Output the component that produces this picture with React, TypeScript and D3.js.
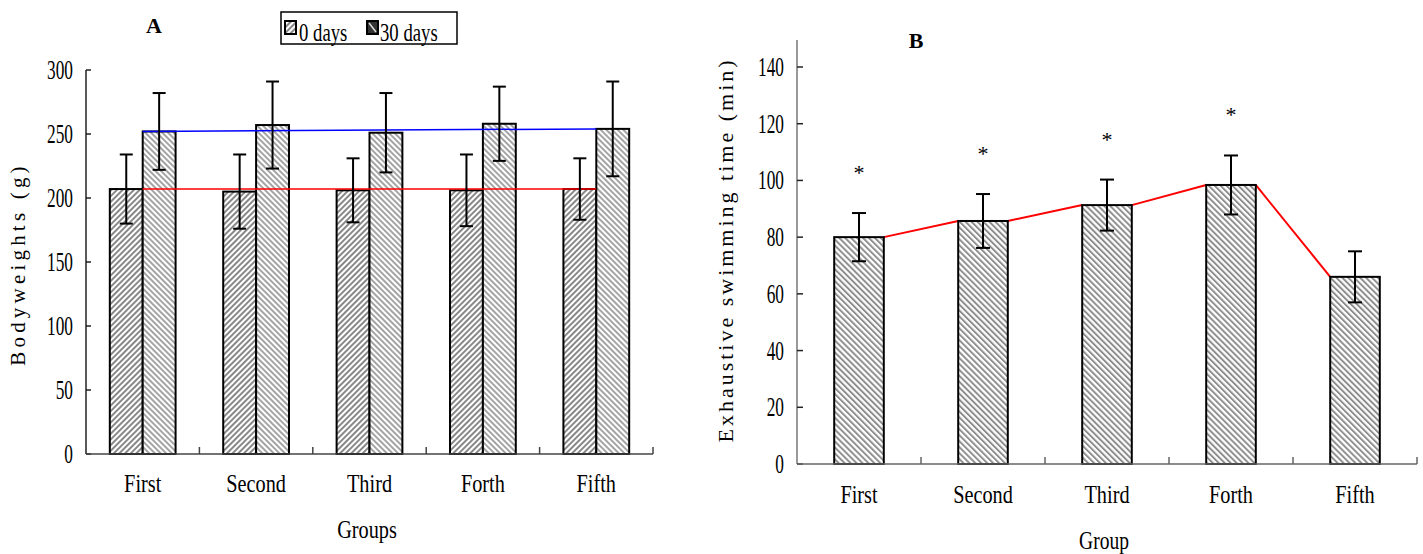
import React from "react";
import * as d3 from "d3";

const groupsA = ["First", "Second", "Third", "Forth", "Fifth"];
const days0 = [207, 205, 206, 206, 207];
const days0Err = [27, 29, 25, 28, 24];
const days30 = [252, 257, 251, 258, 254];
const days30Err = [30, 34, 31, 29, 37];
const ticksA = [0, 50, 100, 150, 200, 250, 300];

const groupsB = ["First", "Second", "Third", "Forth", "Fifth"];
const swimTime = [80, 85.7, 91.3, 98.4, 66];
const swimErr = [8.5, 9.5, 9, 10.4, 9];
const swimSig = [true, true, true, true, false];
const ticksB = [0, 20, 40, 60, 80, 100, 120, 140];

const FONT = "'Liberation Serif', 'DejaVu Serif', serif";

function SText({ x, y, sx = 0.8, anchor = "middle", size = 24, children, weight = "normal", rotate = 0, ls = 0 }: any) {
  return (
    <text
      transform={`translate(${x},${y}) rotate(${rotate}) scale(${sx},1)`}
      textAnchor={anchor}
      fontFamily={FONT}
      fontSize={size}
      fontWeight={weight}
      letterSpacing={ls}
      fill="#000"
    >
      {children}
    </text>
  );
}

export default function App() {
  // Chart A scales
  const xA = d3.scaleBand<string>().domain(groupsA).range([86, 653]).padding(0);
  const yA = d3.scaleLinear().domain([0, 300]).range([454, 70]);
  const bwA = xA.bandwidth() * 0.29;
  const cA = (g: string) => (xA(g) as number) + xA.bandwidth() / 2;

  // Chart B scales
  const xB = d3.scaleBand<string>().domain(groupsB).range([797, 1417]).padding(0);
  const yB = d3.scaleLinear().domain([0, 140]).range([464, 67]);
  const bwB = xB.bandwidth() * 0.4;
  const cB = (g: string) => (xB(g) as number) + xB.bandwidth() / 2;

  const lineGen = d3.line<[number, number]>().x((d) => d[0]).y((d) => d[1]);

  const redA = lineGen([
    [cA(groupsA[0]), yA(days0[0])],
    [cA(groupsA[4]), yA(days0[4])],
  ]) as string;
  const blueA = lineGen([
    [cA(groupsA[0]), yA(days30[0])],
    [cA(groupsA[4]), yA(days30[4])],
  ]) as string;

  const redB: string[] = [];
  for (let i = 0; i < groupsB.length - 1; i++) {
    redB.push(
      lineGen([
        [cB(groupsB[i]) + bwB / 2, yB(swimTime[i])],
        [cB(groupsB[i + 1]) - bwB / 2, yB(swimTime[i + 1])],
      ]) as string
    );
  }

  const boundariesA = d3.range(groupsA.length + 1).map((i) => 86 + i * xA.bandwidth());
  const boundariesB = d3.range(groupsB.length + 1).map((i) => 797 + i * xB.bandwidth());

  const errBar = (cx: number, yTop: number, yBot: number, cap: number, key: string) => (
    <g key={key} stroke="#000" strokeWidth={2}>
      <line x1={cx} x2={cx} y1={yTop} y2={yBot} />
      <line x1={cx - cap / 2} x2={cx + cap / 2} y1={yTop} y2={yTop} />
      <line x1={cx - cap / 2} x2={cx + cap / 2} y1={yBot} y2={yBot} />
    </g>
  );

  return (
    <svg width={1423} height={554} style={{ position: "absolute", left: 0, top: 0, background: "#fff" }}>
      <defs>
        <pattern id="hatchFwd" width={4} height={4} patternUnits="userSpaceOnUse" patternTransform="rotate(45)">
          <rect width={4} height={4} fill="#fff" />
          <line x1={1} x2={1} y1={0} y2={4} stroke="#6a6a6a" strokeWidth={1.6} />
        </pattern>
        <pattern id="hatchBack" width={4} height={4} patternUnits="userSpaceOnUse" patternTransform="rotate(-45)">
          <rect width={4} height={4} fill="#fff" />
          <line x1={1} x2={1} y1={0} y2={4} stroke="#9a9a9a" strokeWidth={1.8} />
        </pattern>
        <pattern id="hatchB" width={4.2} height={4.2} patternUnits="userSpaceOnUse" patternTransform="rotate(-45)">
          <rect width={4.2} height={4.2} fill="#fff" />
          <line x1={1} x2={1} y1={0} y2={4.2} stroke="#8a8a8a" strokeWidth={1.9} />
        </pattern>
      </defs>

      {/* ===== Chart A ===== */}
      <SText x={154} y={33} size={22} weight="bold" sx={1}>A</SText>

      {/* legend */}
      <rect x={281} y={12} width={176} height={32} fill="#fff" stroke="#000" strokeWidth={1.5} />
      <rect x={285} y={21} width={11} height={13} fill="url(#hatchFwd)" stroke="#000" strokeWidth={2} />
      <SText x={299} y={41} anchor="start" size={26} sx={0.72}>0 days</SText>
      <rect x={367} y={21} width={11} height={13} fill="#333" stroke="#000" strokeWidth={2} />
      <line x1={369} y1={23} x2={376} y2={32} stroke="#ddd" strokeWidth={1.5} />
      <SText x={380} y={41} anchor="start" size={26} sx={0.72}>30 days</SText>

      {/* y axis A */}
      <line x1={86} x2={86} y1={yA(0)} y2={yA(300)} stroke="#222" strokeWidth={1.5} />
      {ticksA.map((t) => (
        <g key={"ta" + t}>
          <line x1={86} x2={91} y1={yA(t)} y2={yA(t)} stroke="#222" strokeWidth={1.5} />
          <SText x={73} y={yA(t) + 9} anchor="end" size={27} sx={0.64}>{t}</SText>
        </g>
      ))}
      <SText x={25} y={264} size={21} sx={1} rotate={-90} ls={4.2}>Bodyweights (g)</SText>

      {/* bars A */}
      {groupsA.map((g, i) => (
        <g key={"ba" + g}>
          <rect x={cA(g) - bwA} y={yA(days0[i])} width={bwA} height={yA(0) - yA(days0[i])} fill="url(#hatchFwd)" stroke="#000" strokeWidth={2} />
          <rect x={cA(g)} y={yA(days30[i])} width={bwA} height={yA(0) - yA(days30[i])} fill="url(#hatchBack)" stroke="#000" strokeWidth={2} />
        </g>
      ))}
      <path d={redA} stroke="#ff0000" strokeWidth={1.5} fill="none" />
      <path d={blueA} stroke="#0000ff" strokeWidth={1.5} fill="none" />
      {groupsA.map((g, i) => (
        <g key={"ea" + g}>
          {errBar(cA(g) - bwA / 2, yA(days0[i] + days0Err[i]), yA(days0[i] - days0Err[i]), 13, "e0" + g)}
          {errBar(cA(g) + bwA / 2, yA(days30[i] + days30Err[i]), yA(days30[i] - days30Err[i]), 13, "e30" + g)}
        </g>
      ))}

      {/* x axis A */}
      <line x1={86} x2={boundariesA[boundariesA.length - 1]} y1={454} y2={454} stroke="#444" strokeWidth={1.5} />
      {boundariesA.slice(1).map((b, i) => (
        <line key={"xba" + i} x1={b} x2={b} y1={454} y2={447} stroke="#444" strokeWidth={1.5} />
      ))}
      {groupsA.map((g) => (
        <SText key={"la" + g} x={cA(g)} y={492} size={26} sx={0.78}>{g}</SText>
      ))}
      <SText x={367} y={538} size={26} sx={0.78}>Groups</SText>

      {/* ===== Chart B ===== */}
      <SText x={916} y={48} size={22} weight="bold" sx={1}>B</SText>

      {/* red line behind */}
      {redB.map((d, i) => (
        <path key={"rb" + i} d={d} stroke="#ff0000" strokeWidth={2} fill="none" />
      ))}
      {groupsB.map((g, i) => (
        <rect key={"bb" + g} x={cB(g) - bwB / 2} y={yB(swimTime[i])} width={bwB} height={yB(0) - yB(swimTime[i])} fill="url(#hatchB)" stroke="#000" strokeWidth={2} />
      ))}
      {groupsB.map((g, i) => errBar(cB(g), yB(swimTime[i] + swimErr[i]), yB(swimTime[i] - swimErr[i]), 14, "eb" + g))}
      {groupsB.map((g, i) =>
        swimSig[i] ? (
          <SText key={"st" + g} x={cB(g)} y={yB(swimTime[i] + swimErr[i]) - 33} size={22} sx={1}>*</SText>
        ) : null
      )}

      {/* y axis B */}
      <line x1={797} x2={797} y1={464} y2={40} stroke="#999" strokeWidth={2} />
      {ticksB.map((t) => (
        <g key={"tb" + t}>
          <line x1={797} x2={803} y1={yB(t)} y2={yB(t)} stroke="#222" strokeWidth={1.5} />
          <SText x={784} y={yB(t) + 9} anchor="end" size={27} sx={0.64}>{t}</SText>
        </g>
      ))}
      <SText x={733} y={250} size={22} sx={1} rotate={-90} ls={3}>Exhaustive swimming time (min)</SText>

      {/* x axis B */}
      <line x1={797} x2={boundariesB[boundariesB.length - 1]} y1={464} y2={464} stroke="#666" strokeWidth={1.5} />
      {boundariesB.slice(1).map((b, i) => (
        <line key={"xbb" + i} x1={b} x2={b} y1={464} y2={457} stroke="#666" strokeWidth={1.5} />
      ))}
      {groupsB.map((g) => (
        <SText key={"lb" + g} x={cB(g)} y={503} size={26} sx={0.78}>{g}</SText>
      ))}
      <SText x={1104} y={549} size={25} sx={0.78}>Group</SText>
    </svg>
  );
}
